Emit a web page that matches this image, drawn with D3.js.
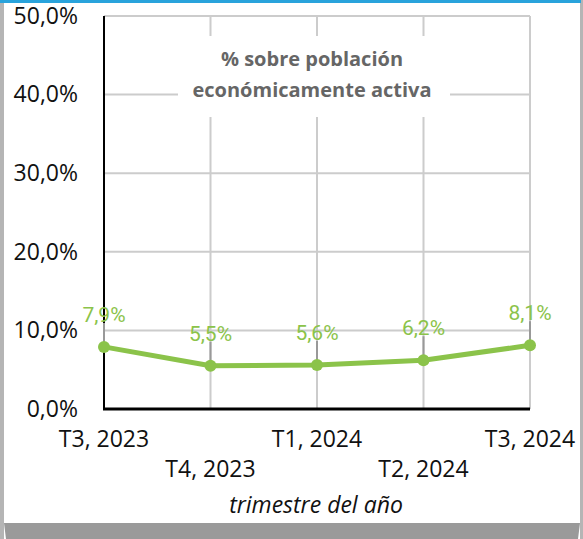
<!DOCTYPE html>
<html>
<head>
<meta charset="utf-8">
<script src="https://cdn.jsdelivr.net/npm/d3@7"></script>
<style>
  body { margin: 0; background: #fff; }
  svg { display: block; }
</style>
</head>
<body>
<div id="chart"></div>
<script>
// data
const quarters = ["T3, 2023", "T4, 2023", "T1, 2024", "T2, 2024", "T3, 2024"];
const rates = [7.9, 5.5, 5.6, 6.2, 8.1];
const yTicks = [0, 10, 20, 30, 40, 50];

const W = 583, H = 539;
const green = "#8bc34a";
const fmt = d => d.toFixed(1).replace(".", ",") + "%";

const svg = d3.select("#chart").append("svg")
    .attr("width", W)
    .attr("height", H);

// frame: grey sides, blue top, grey bottom band
svg.append("rect").attr("x", 0).attr("y", 0).attr("width", 4).attr("height", H).attr("fill", "#b5b5b5");
svg.append("rect").attr("x", 580).attr("y", 0).attr("width", 3).attr("height", H).attr("fill", "#b5b5b5");
svg.append("rect").attr("x", 0).attr("y", 0).attr("width", 581).attr("height", 3).attr("fill", "#29a3dc");
svg.append("path")
    .attr("d", "M4,523 L580,523 L578,539 L6,539 Z")
    .attr("fill", "#9a9a9a");

const x = d3.scalePoint()
    .domain(quarters)
    .range([104, 530]);

const y = d3.scaleLinear()
    .domain([0, 50])
    .range([409, 16]);

// grid
svg.append("g")
    .selectAll("line.hgrid")
    .data(yTicks.slice(1))
    .enter()
    .append("line")
    .attr("class", "hgrid")
    .attr("x1", 104).attr("x2", 530)
    .attr("y1", d => y(d)).attr("y2", d => y(d))
    .attr("stroke", "#cccccc")
    .attr("stroke-width", 2);

svg.append("g")
    .selectAll("line.vgrid")
    .data(quarters.slice(1))
    .enter()
    .append("line")
    .attr("class", "vgrid")
    .attr("x1", d => x(d)).attr("x2", d => x(d))
    .attr("y1", y(50)).attr("y2", y(0))
    .attr("stroke", "#cccccc")
    .attr("stroke-width", 2);

// title box over the grid
svg.append("rect")
    .attr("x", 178).attr("y", 36)
    .attr("width", 272).attr("height", 81)
    .attr("fill", "#fff");

svg.append("text")
    .attr("x", 312).attr("y", 66)
    .attr("text-anchor", "middle")
    .style("font-family", "'Open Sans', sans-serif")
    .style("font-weight", "bold")
    .style("font-size", "20px")
    .style("fill", "#666")
    .text("% sobre población");

svg.append("text")
    .attr("x", 312).attr("y", 97)
    .attr("text-anchor", "middle")
    .style("font-family", "'Open Sans', sans-serif")
    .style("font-weight", "bold")
    .style("font-size", "20px")
    .style("fill", "#666")
    .text("económicamente activa");

// y axis labels
const yAxis = d3.axisLeft(y)
    .tickValues(yTicks)
    .tickFormat(fmt)
    .tickSize(0)
    .tickPadding(26);

const gy = svg.append("g")
    .attr("transform", "translate(104,0)")
    .call(yAxis);
gy.select(".domain").remove();
gy.selectAll("text")
    .style("font-family", "'Open Sans', sans-serif")
    .style("font-size", "23px")
    .style("fill", "#111");

// x axis labels, staggered
svg.append("g")
    .selectAll("text.xlab")
    .data(quarters)
    .enter()
    .append("text")
    .attr("class", "xlab")
    .attr("x", d => x(d))
    .attr("y", (d, i) => i % 2 === 0 ? 447 : 477)
    .attr("text-anchor", "middle")
    .style("font-family", "'Open Sans', sans-serif")
    .style("font-size", "23px")
    .style("fill", "#111")
    .text(d => d);

svg.append("text")
    .attr("x", 316).attr("y", 513)
    .attr("text-anchor", "middle")
    .style("font-family", "'Open Sans', sans-serif")
    .style("font-style", "italic")
    .style("font-size", "23px")
    .style("fill", "#111")
    .text("trimestre del año");

// axis lines
svg.append("line")
    .attr("x1", 104).attr("x2", 104)
    .attr("y1", y(50)).attr("y2", y(0) + 1)
    .attr("stroke", "#000").attr("stroke-width", 2);
svg.append("line")
    .attr("x1", 103).attr("x2", 530)
    .attr("y1", y(0)).attr("y2", y(0))
    .attr("stroke", "#000").attr("stroke-width", 3);

const pts = quarters.map((q, i) => ({ q: q, v: rates[i] }));

// leader lines from label to point
svg.append("g")
    .selectAll("line.leader")
    .data(pts)
    .enter()
    .append("line")
    .attr("class", "leader")
    .attr("x1", d => x(d.q)).attr("x2", d => x(d.q))
    .attr("y1", d => y(d.v) - 24).attr("y2", d => y(d.v))
    .attr("stroke", "#999")
    .attr("stroke-width", 2);

// series line
svg.append("path")
    .datum(pts)
    .attr("fill", "none")
    .attr("stroke", green)
    .attr("stroke-width", 5)
    .attr("stroke-linejoin", "round")
    .attr("d", d3.line().x(d => x(d.q)).y(d => y(d.v)));

svg.selectAll("circle.dot")
    .data(pts)
    .enter()
    .append("circle")
    .attr("class", "dot")
    .attr("cx", d => x(d.q))
    .attr("cy", d => y(d.v))
    .attr("r", 6)
    .attr("fill", green);

svg.selectAll("text.val")
    .data(pts)
    .enter()
    .append("text")
    .attr("class", "val")
    .attr("x", d => x(d.q))
    .attr("y", d => y(d.v) - 25)
    .attr("text-anchor", "middle")
    .style("font-family", "Roboto, sans-serif")
    .style("font-size", "21px")
    .style("fill", green)
    .text(d => fmt(d.v));
</script>
</body>
</html>
